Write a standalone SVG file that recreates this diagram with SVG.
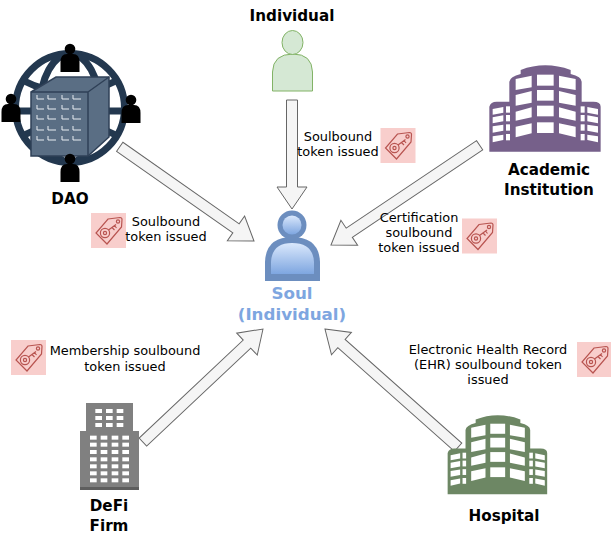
<svg xmlns="http://www.w3.org/2000/svg" xmlns:xlink="http://www.w3.org/1999/xlink" width="611" height="535" viewBox="0 0 611 535">
<style>
text{font-family:"DejaVu Sans",Verdana,sans-serif;text-anchor:middle;fill:#000}
.l{font-size:12.900px}
.b{font-size:15.200px;font-weight:bold}
.s{font-size:16.700px;font-weight:bold;fill:#7ea6e0}
.a{fill:#f5f5f5;stroke:#666;stroke-width:1}
.w{fill:#fff}
.tl{fill:none;stroke:#b85450;stroke-width:1.200}
.gl{fill:none;stroke:#23384f;stroke-width:7}
.cl{fill:none;stroke:#e8edf2;stroke-width:1}
</style>
<defs>
<linearGradient id="g1" x1="0" y1="0" x2="0" y2="1"><stop offset="0" stop-color="#dae8fc"/><stop offset="1" stop-color="#7ea6e0"/></linearGradient>
<g id="tag">
<rect width="35" height="35" fill="#f8cecc"/>
<path class="tl" d="M17,6 L29,4.500 Q31,4.500 31,6.500 L30.500,14 L16,31 L5,20 Z"/>
<circle class="tl" cx="27" cy="8.500" r="1.600"/>
<circle class="tl" cx="14" cy="20" r="4.600"/>
<circle class="tl" cx="14" cy="20" r="1.600"/>
<path class="tl" d="M17.500,17 L25,11.500 M21,14.500 L23.500,17 M23.500,12.500 L25.500,15"/>
</g>
<g id="bld">
<path d="M28,275 V140 Q32,125 50,125 H88 V65 Q90,50 122,42 V30 Q195,2 272,30 V42 Q305,50 305,65 V125 H340 Q362,125 362,140 V275 Z"/>
<g class="w">
<path d="M107,57 L155,47 V82 L107,90 Z M107,105 L155,93 V128 L107,137 Z M107,155 L155,142 V172 L107,182 Z M107,200 L155,190 V220 L107,232 Z"/>
<path d="M287,57 L237,47 V82 L287,90 Z M287,105 L237,93 V128 L287,137 Z M287,155 L237,142 V172 L287,182 Z M287,200 L237,190 V220 L287,232 Z"/>
<rect x="171" y="44" width="50" height="33"/><rect x="171" y="90" width="50" height="32"/><rect x="171" y="137" width="50" height="32"/><rect x="171" y="187" width="50" height="32"/>
<path d="M38,147 L70,141 V158 L38,164 Z M38,172 L70,166 V184 L38,190 Z M38,199 L70,194 V212 L38,218 Z M38,229 L70,224 V240 L38,247 Z"/>
<path d="M354,147 L322,141 V158 L354,164 Z M354,172 L322,166 V184 L354,190 Z M354,199 L322,194 V212 L354,218 Z M354,229 L322,224 V240 L354,247 Z"/>
<rect x="78" y="139" width="12" height="19"/><rect x="78" y="165" width="12" height="19"/><rect x="78" y="193" width="12" height="19"/><rect x="78" y="222" width="12" height="19"/>
<rect x="302" y="139" width="12" height="19"/><rect x="302" y="165" width="12" height="19"/><rect x="302" y="193" width="12" height="19"/><rect x="302" y="222" width="12" height="19"/>
</g>
</g>
<g id="per"><circle cx="0" cy="0" r="5.300"/><path d="M-9.500,23 V13 Q-9.500,5 -3,5 H3 Q9.500,5 9.500,13 V23 Z"/></g>
</defs>
<rect width="611" height="535" fill="#fff"/>

<g id="connectors">
<polygon class="a" transform="translate(292,209) rotate(90)" points="0,0 -22,15 -22,5.500 -109,5.500 -109,-5.500 -22,-5.500 -22,-15"/>
<polygon class="a" transform="translate(254,241) rotate(35.060)" points="0,0 -22,15 -22,5.500 -164,5.500 -164,-5.500 -22,-5.500 -22,-15"/>
<polygon class="a" transform="translate(331,245) rotate(146.130)" points="0,0 -22,15 -22,5.500 -179,5.500 -179,-5.500 -22,-5.500 -22,-15"/>
<polygon class="a" transform="translate(263,329) rotate(-43.280)" points="0,0 -22,15 -22,5.500 -165,5.500 -165,-5.500 -22,-5.500 -22,-15"/>
<polygon class="a" transform="translate(325,329) rotate(221.600)" points="0,0 -22,15 -22,5.500 -178,5.500 -178,-5.500 -22,-5.500 -22,-15"/>
</g>

<g id="individual">
<path d="M272.500,91 V72 Q273,54 293,54 Q312,54 312.500,72 V91 Z" fill="#d5e8d4" stroke="#82b366"/>
<ellipse cx="292.500" cy="42.500" rx="10.500" ry="12" fill="#d5e8d4" stroke="#82b366"/>
<text class="b" x="292" y="21">Individual</text>
</g>

<g id="soul">
<path d="M265,281 V262 Q266,237 292,237 Q319,237 320,262 V281 Z" fill="#6c8ebf"/>
<path d="M271,274 V262 Q272,243 292,243 Q313,243 314,262 V274 Z" fill="url(#g1)"/>
<circle cx="292" cy="225" r="14.500" fill="#6c8ebf"/>
<circle cx="292" cy="225" r="9.500" fill="url(#g1)"/>
<text class="s" x="292" y="299">Soul</text>
<text class="s" x="292" y="320">(Individual)</text>
</g>

<g id="dao">
<circle class="gl" cx="70" cy="108" r="54.500"/>
<ellipse class="gl" cx="70" cy="108" rx="30" ry="54"/>
<path class="gl" d="M22,80 Q70,105 118,80 M22,136 Q70,111 118,136 M15,111 H125"/>
<path d="M31,92 L56,77 H109 V137 L88,156 H31 Z" fill="#5a6e84" stroke="#2f4057" stroke-width="1.500"/>
<path d="M31,92 H88 V156 M88,92 L109,77" fill="none" stroke="#2f4057" stroke-width="1.500"/>
<path class="cl" d="M37,95 V99 H44 M48,95 V99 H56 M62,95 V99 H69 M73,95 V99 H81 M37,105 V109 H44 M48,105 V109 H56 M62,105 V109 H69 M73,105 V109 H81 M37,115 V119 H44 M48,115 V119 H56 M62,115 V119 H69 M73,115 V119 H81 M37,126 V130 H44 M48,126 V130 H56 M62,126 V130 H69 M73,126 V130 H81 M37,136 V140 H44 M48,136 V140 H56 M62,136 V140 H69 M73,136 V140 H81"/>
<use xlink:href="#per" href="#per" x="70" y="49"/>
<use xlink:href="#per" href="#per" x="11" y="99"/>
<use xlink:href="#per" href="#per" x="131" y="100"/>
<use xlink:href="#per" href="#per" x="70" y="159"/>
<text class="b" x="70" y="204">DAO</text>
</g>

<g id="academic">
<use xlink:href="#bld" href="#bld" transform="translate(480,60) scale(.3333)" fill="#76608a"/>
<text class="b" x="549" y="175">Academic</text>
<text class="b" x="549" y="195">Institution</text>
</g>

<g id="defi">
<rect x="86" y="403" width="47" height="30" fill="#808080"/>
<rect x="80" y="431" width="59" height="59" fill="#808080"/>
<rect x="80" y="487" width="59" height="3" fill="#5e5e5e"/>
<g class="w" transform="translate(60,395) scale(.3333)">
<rect x="106" y="42" width="20" height="12"/><rect x="138" y="42" width="20" height="12"/><rect x="170" y="42" width="20" height="12"/>
<rect x="106" y="63" width="20" height="12"/><rect x="138" y="63" width="20" height="12"/><rect x="170" y="63" width="20" height="12"/>
<rect x="106" y="84" width="20" height="12"/><rect x="138" y="84" width="20" height="12"/><rect x="170" y="84" width="20" height="12"/>
<rect x="90" y="122" width="20" height="12"/><rect x="122" y="122" width="20" height="12"/><rect x="155" y="122" width="20" height="12"/><rect x="187" y="122" width="20" height="12"/>
<rect x="90" y="143" width="20" height="12"/><rect x="122" y="143" width="20" height="12"/><rect x="155" y="143" width="20" height="12"/><rect x="187" y="143" width="20" height="12"/>
<rect x="90" y="165" width="20" height="12"/><rect x="122" y="165" width="20" height="12"/><rect x="155" y="165" width="20" height="12"/><rect x="187" y="165" width="20" height="12"/>
<rect x="90" y="187" width="20" height="12"/><rect x="122" y="187" width="20" height="12"/><rect x="155" y="187" width="20" height="12"/><rect x="187" y="187" width="20" height="12"/>
<rect x="90" y="208" width="20" height="12"/><rect x="122" y="208" width="20" height="12"/><rect x="155" y="208" width="20" height="12"/><rect x="187" y="208" width="20" height="12"/>
<rect x="90" y="229" width="20" height="12"/><rect x="122" y="229" width="20" height="12"/><rect x="155" y="229" width="20" height="12"/><rect x="187" y="229" width="20" height="12"/>
<rect x="90" y="250" width="20" height="12"/><rect x="122" y="250" width="20" height="12"/><rect x="155" y="250" width="20" height="12"/><rect x="187" y="250" width="20" height="12"/>
</g>
<text class="b" x="109" y="511">DeFi</text>
<text class="b" x="109" y="531">Firm</text>
</g>

<g id="hospital">
<use xlink:href="#bld" href="#bld" transform="translate(439.300,410.300) scale(.298,.305)" fill="#6d8764"/>
<text class="b" x="504" y="521">Hospital</text>
</g>

<g id="label-individual"><use xlink:href="#tag" href="#tag" x="380.500" y="128"/>
<text class="l" x="338" y="141">Soulbound</text><text class="l" x="338" y="156">token issued</text></g>
<g id="label-dao"><use xlink:href="#tag" href="#tag" x="91" y="213"/>
<text class="l" x="166" y="226">Soulbound</text><text class="l" x="166" y="241">token issued</text></g>
<g id="label-academic"><use xlink:href="#tag" href="#tag" x="462" y="218.500"/>
<text class="l" x="419" y="222">Certification</text><text class="l" x="419" y="237">soulbound</text><text class="l" x="419" y="252">token issued</text></g>
<g id="label-defi"><use xlink:href="#tag" href="#tag" x="11" y="340"/>
<text class="l" x="125" y="355">Membership soulbound</text><text class="l" x="125" y="371">token issued</text></g>
<g id="label-hospital"><use xlink:href="#tag" href="#tag" x="577" y="342"/>
<text class="l" x="488" y="354">Electronic Health Record</text><text class="l" x="488" y="369">(EHR) soulbound token</text><text class="l" x="488" y="384">issued</text></g>
</svg>
